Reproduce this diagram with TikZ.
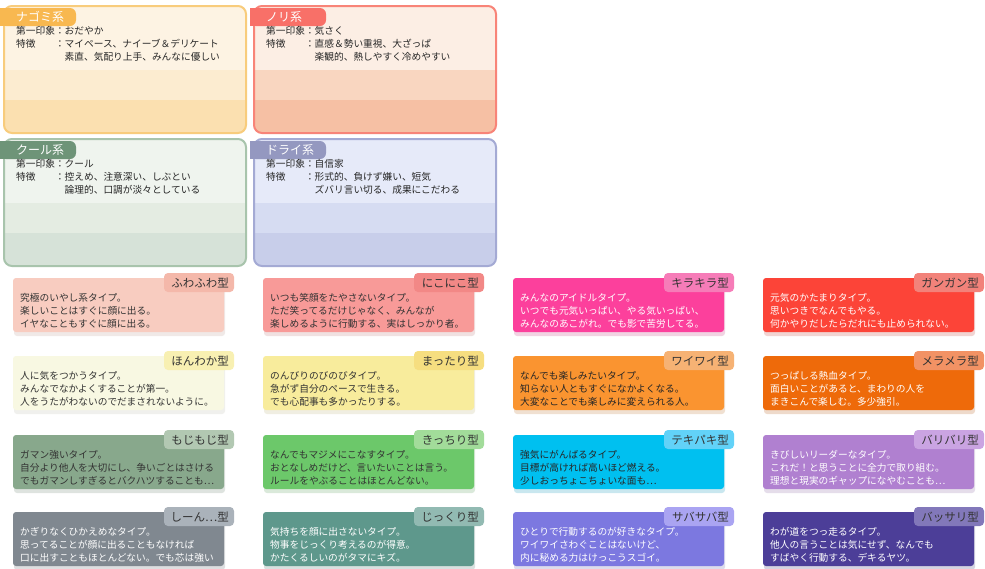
\documentclass[tikz,border=0pt]{standalone}
\usepackage{fontspec}
\setmainfont{Noto Sans CJK JP}
\begin{document}
\begin{tikzpicture}[x=1pt,y=-1pt,
  bodytxt/.style={anchor=north west,align=left,inner sep=0,font=\fontsize{9.7}{13}\selectfont},
  tabtxt/.style={anchor=east,inner sep=0,font=\fontsize{11.5}{12}\selectfont},
  ptxt/.style={anchor=north west,align=left,inner sep=0,font=\fontsize{9.7}{13}\selectfont,text=black!85},
  ptab/.style={anchor=west,inner sep=0,font=\fontsize{12}{12}\selectfont,text=white}]
\useasboundingbox (0,0) rectangle (985,568);
\fill[white] (0,0) rectangle (985,568);
\definecolor{nb}{HTML}{F8CC7C}\definecolor{n1}{HTML}{FDF3E3}\definecolor{n2}{HTML}{FCECD0}\definecolor{n3}{HTML}{FBE0B0}\definecolor{nt}{HTML}{F8B850}
\definecolor{rb}{HTML}{F88478}\definecolor{r1}{HTML}{FCEEE4}\definecolor{r2}{HTML}{F9D6C0}\definecolor{r3}{HTML}{F6C0A4}\definecolor{rt}{HTML}{F87068}
\definecolor{kb}{HTML}{A8C4AC}\definecolor{k1}{HTML}{EFF4EE}\definecolor{k2}{HTML}{E4ECE2}\definecolor{k3}{HTML}{D6E2D8}\definecolor{kt}{HTML}{6E9478}
\definecolor{db}{HTML}{A4AAD4}\definecolor{d1}{HTML}{E6EAF9}\definecolor{d2}{HTML}{D6DCF2}\definecolor{d3}{HTML}{C8CEEA}\definecolor{dt}{HTML}{9498C0}
% panels
\newcommand\mkpanel[9]{% name x y border b1 b2 b3 tabcol title
 \begin{scope}
 \clip[rounded corners=8] (#2,#3) rectangle ++(242,127);
 \fill[#5] (#2,#3) rectangle ++(242,64);
 \fill[#6] (#2,#3+64) rectangle ++(242,30);
 \fill[#7] (#2,#3+94) rectangle ++(242,40);
 \end{scope}
 \draw[#4,line width=2,rounded corners=8] (#2,#3) rectangle ++(242,127);
 \fill[#8,rounded corners=6] (#2-4,#3+2) rectangle ++(76,18);
 \fill[#8] (#2-4,#3+2) rectangle ++(10,18);
 \node[ptab] (#1t) at (#2+12,#3+11) {#9};
}
\mkpanel{nagomi}{4}{6}{nb}{n1}{n2}{n3}{nt}{ナゴミ系}
\mkpanel{nori}{254}{6}{rb}{r1}{r2}{r3}{rt}{ノリ系}
\mkpanel{cool}{4}{139}{kb}{k1}{k2}{k3}{kt}{クール系}
\mkpanel{dry}{254}{139}{db}{d1}{d2}{d3}{dt}{ドライ系}
\node[ptxt] (nagomid) at (16,26) {第一印象：おだやか\\特徴\hspace{2em}：マイペース、ナイーブ＆デリケート\\\hspace{5em}素直、気配り上手、みんなに優しい};
\node[ptxt] (norid) at (266,26) {第一印象：気さく\\特徴\hspace{2em}：直感＆勢い重視、大ざっぱ\\\hspace{5em}楽観的、熱しやすく冷めやすい};
\node[ptxt] (coold) at (16,159) {第一印象：クール\\特徴\hspace{2em}：控えめ、注意深い、しぶとい\\\hspace{5em}論理的、口調が淡々としている};
\node[ptxt] (dryd) at (266,159) {第一印象：自信家\\特徴\hspace{2em}：形式的、負けず嫌い、短気\\\hspace{5em}ズバリ言い切る、成果にこだわる};
% cards
\newcommand\mkcard[8]{% name x y body tab textcol label text
 \fill[#4!75!black!60,opacity=.35,rounded corners=3] (#2+1,#3+8) rectangle ++(211,55);
 \fill[#4,rounded corners=3] (#2,#3+5) rectangle ++(211,54);
 \fill[#5,rounded corners=4] (#2+151,#3) rectangle ++(70,19);
 \node[tabtxt,text=black!80] (#1t) at (#2+216,#3+10) {#7};
 \node[bodytxt,text=#6] (#1) at (#2+7,#3+20) {#8};
}
\definecolor{c1}{HTML}{F8CCC0}\definecolor{t1}{HTML}{F4B8AA}
\definecolor{c2}{HTML}{F89A98}\definecolor{t2}{HTML}{F28886}
\definecolor{c3}{HTML}{FC409C}\definecolor{t3}{HTML}{F67CB8}
\definecolor{c4}{HTML}{FC4438}\definecolor{t4}{HTML}{F2827A}
\definecolor{c5}{HTML}{F8F8E2}\definecolor{t5}{HTML}{F8F0B2}
\definecolor{c6}{HTML}{F8EC9C}\definecolor{t6}{HTML}{F6DE80}
\definecolor{c7}{HTML}{FA9430}\definecolor{t7}{HTML}{F6B274}
\definecolor{c8}{HTML}{EE6A0A}\definecolor{t8}{HTML}{F29264}
\definecolor{c9}{HTML}{88A88C}\definecolor{t9}{HTML}{B2C8B2}
\definecolor{c10}{HTML}{6CC86A}\definecolor{t10}{HTML}{A2DC9A}
\definecolor{c11}{HTML}{00C0F0}\definecolor{t11}{HTML}{62D2F8}
\definecolor{c12}{HTML}{B080D0}\definecolor{t12}{HTML}{CAA4E2}
\definecolor{c13}{HTML}{808890}\definecolor{t13}{HTML}{AAB2BA}
\definecolor{c14}{HTML}{5E988C}\definecolor{t14}{HTML}{92BAB2}
\definecolor{c15}{HTML}{7C78E0}\definecolor{t15}{HTML}{AAA4F2}
\definecolor{c16}{HTML}{4C3E98}\definecolor{t16}{HTML}{8278BA}
\mkcard{fuwa}{13}{273}{c1}{t1}{black!80}{ふわふわ型}{究極のいやし系タイプ。\\楽しいことはすぐに顔に出る。\\イヤなこともすぐに顔に出る。}
\mkcard{niko}{263}{273}{c2}{t2}{black!80}{にこにこ型}{いつも笑顔をたやさないタイプ。\\ただ笑ってるだけじゃなく、みんなが\\楽しめるように行動する、実はしっかり者。}
\mkcard{kira}{513}{273}{c3}{t3}{white}{キラキラ型}{みんなのアイドルタイプ。\\いつでも元気いっぱい、やる気いっぱい、\\みんなのあこがれ。でも影で苦労してる。}
\mkcard{gan}{763}{273}{c4}{t4}{white}{ガンガン型}{元気のかたまりタイプ。\\思いつきでなんでもやる。\\何かやりだしたらだれにも止められない。}
\mkcard{hon}{13}{351}{c5}{t5}{black!80}{ほんわか型}{人に気をつかうタイプ。\\みんなでなかよくすることが第一。\\人をうたがわないのでだまされないように。}
\mkcard{mat}{263}{351}{c6}{t6}{black!80}{まったり型}{のんびりのびのびタイプ。\\急がず自分のペースで生きる。\\でも心配事も多かったりする。}
\mkcard{wai}{513}{351}{c7}{t7}{black!85}{ワイワイ型}{なんでも楽しみたいタイプ。\\知らない人ともすぐになかよくなる。\\大変なことでも楽しみに変えられる人。}
\mkcard{mera}{763}{351}{c8}{t8}{white}{メラメラ型}{つっぱしる熱血タイプ。\\面白いことがあると、まわりの人を\\まきこんで楽しむ。多少強引。}
\mkcard{moji}{13}{430}{c9}{t9}{black!80}{もじもじ型}{ガマン強いタイプ。\\自分より他人を大切にし、争いごとはさける\\でもガマンしすぎるとバクハツすることも…}
\mkcard{kit}{263}{430}{c10}{t10}{black!80}{きっちり型}{なんでもマジメにこなすタイプ。\\おとなしめだけど、言いたいことは言う。\\ルールをやぶることはほとんどない。}
\mkcard{teki}{513}{430}{c11}{t11}{black!85}{テキパキ型}{強気にがんばるタイプ。\\目標が高ければ高いほど燃える。\\少しおっちょこちょいな面も…}
\mkcard{bari}{763}{430}{c12}{t12}{white}{バリバリ型}{きびしいリーダーなタイプ。\\これだ！と思うことに全力で取り組む。\\理想と現実のギャップになやむことも…}
\mkcard{shin}{13}{507}{c13}{t13}{white}{しーん…型}{かぎりなくひかえめなタイプ。\\思ってることが顔に出ることもなければ\\口に出すこともほとんどない。でも芯は強い}
\mkcard{jik}{263}{507}{c14}{t14}{white}{じっくり型}{気持ちを顔に出さないタイプ。\\物事をじっくり考えるのが得意。\\かたくるしいのがタマにキズ。}
\mkcard{saba}{513}{507}{c15}{t15}{white}{サバサバ型}{ひとりで行動するのが好きなタイプ。\\ワイワイさわぐことはないけど、\\内に秘める力はけっこうスゴイ。}
\mkcard{bas}{763}{507}{c16}{t16}{white}{バッサリ型}{わが道をつっ走るタイプ。\\他人の言うことは気にせず、なんでも\\すばやく行動する、デキるヤツ。}
\end{tikzpicture}
\end{document}
